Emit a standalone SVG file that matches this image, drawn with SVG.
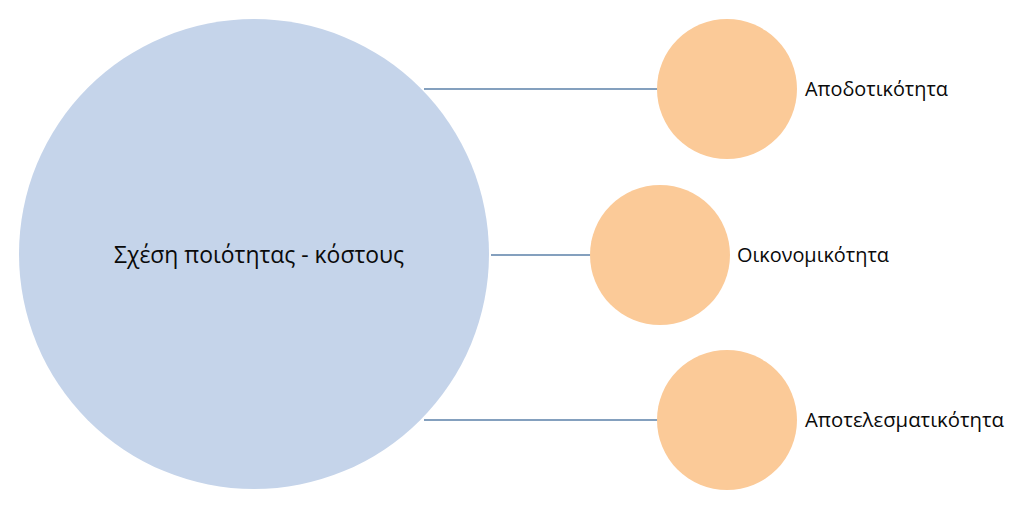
<svg xmlns="http://www.w3.org/2000/svg" width="1024" height="520" viewBox="0 0 1024 520">
<style>
.big{fill:#C5D4EA}
.small{fill:#FBCA98}
.conn line{stroke:#5B80A8;stroke-width:1.5}
text{font-family:"Open Sans","Noto Sans","Liberation Sans",sans-serif;fill:#0A0A0A}
.lbl{font-size:20px}
.main{font-size:24px}
</style>
<rect width="1024" height="520" fill="#FFFFFF"/>
<g class="conn" id="connectors">
<line x1="424" y1="89" x2="658" y2="89"/>
<line x1="491" y1="255" x2="591" y2="255"/>
<line x1="424" y1="420" x2="658" y2="420"/>
</g>
<g id="node-main">
<circle class="big" cx="254" cy="254" r="235"/>
<text class="main" x="114" y="263" textLength="290" lengthAdjust="spacingAndGlyphs">Σχέση ποιότητας - κόστους</text>
</g>
<g id="node-1">
<circle class="small" cx="727" cy="89" r="70"/>
<text class="lbl" x="805" y="96" textLength="143" lengthAdjust="spacingAndGlyphs">Αποδοτικότητα</text>
</g>
<g id="node-2">
<circle class="small" cx="660" cy="255" r="70"/>
<text class="lbl" x="737" y="262" textLength="152" lengthAdjust="spacingAndGlyphs">Οικονομικότητα</text>
</g>
<g id="node-3">
<circle class="small" cx="727" cy="420" r="70"/>
<text class="lbl" x="805" y="427" textLength="199" lengthAdjust="spacingAndGlyphs">Αποτελεσματικότητα</text>
</g>
</svg>
